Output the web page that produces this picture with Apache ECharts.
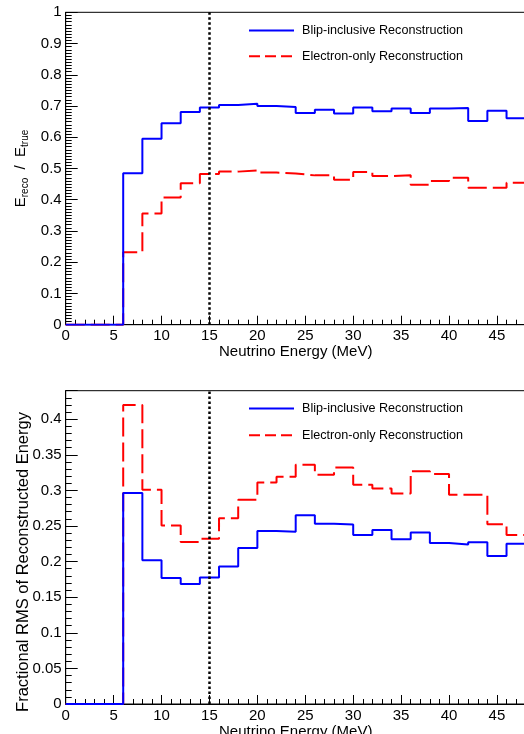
<!DOCTYPE html>
<html>
<head>
<meta charset="utf-8">
<script src="https://cdn.jsdelivr.net/npm/echarts@6/dist/echarts.min.js"></script>
<style>
html,body{margin:0;padding:0;background:#fff;}
#chart{width:524px;height:734px;}
</style>
</head>
<body>
<div id="chart"></div>
<script>
// Bin edges (MeV)
const binEdges = [0,2,4,6,8,10,12,14,16,18,20,22,24,26,28,30,32,34,36,38,40,42,44,46,48];
const seriesNames = ['Blip-inclusive Reconstruction', 'Electron-only Reconstruction'];
// Top panel: E_reco / E_true
const ratioBlip = [0,0,0,0.485,0.595,0.645,0.681,0.695,0.703,0.707,0.700,0.697,0.678,0.688,0.676,0.695,0.683,0.692,0.678,0.692,0.694,0.652,0.685,0.661];
const ratioElec = [0,0,0,0.232,0.356,0.407,0.453,0.482,0.490,0.494,0.487,0.484,0.478,0.478,0.464,0.489,0.476,0.478,0.448,0.460,0.470,0.438,0.438,0.454];
// Bottom panel: fractional RMS
const rmsBlip = [0,0,0,0.2965,0.202,0.177,0.1686,0.1775,0.193,0.219,0.243,0.242,0.265,0.253,0.252,0.2375,0.2445,0.2314,0.2407,0.226,0.224,0.227,0.208,0.225];
const rmsElec = [0,0,0,0.420,0.301,0.2506,0.2276,0.232,0.261,0.287,0.311,0.319,0.336,0.322,0.332,0.308,0.3025,0.2955,0.327,0.323,0.294,0.294,0.2525,0.2375];
const cutEnergy = 15;

function stepData(vals){
  const d = vals.map((v,i)=>[binEdges[i], v]);
  d.push([binEdges[binEdges.length-1], vals[vals.length-1]]);
  return d;
}

const FONT = 'Liberation Sans, Arial, Helvetica, sans-serif';
const BLUE = '#0000ff', RED = '#ff0000';

function xAxis(gridIndex){
  return {
    type:'value', gridIndex, min:0, max:48, interval:5,
    name:'Neutrino Energy (MeV)', nameLocation:'middle', nameGap:16,
    nameTextStyle:{fontFamily:FONT, fontSize:15, color:'#000', verticalAlign:'top'},
    axisLine:{show:true, lineStyle:{color:'#000', width:1}},
    axisTick:{show:true, inside:true, length:9, lineStyle:{color:'#000'}},
    minorTick:{show:true, splitNumber:5, length:5, lineStyle:{color:'#000'}},
    axisLabel:{fontFamily:FONT, fontSize:15, color:'#000', margin:4, showMaxLabel:false},
    splitLine:{show:false}
  };
}

function legend(top, gap){
  return {left:248, top, orient:'vertical', padding:0, itemWidth:45, itemHeight:14, itemGap:gap,
    itemStyle:{opacity:0},
    data:[
      {name:seriesNames[0]},
      {name:seriesNames[1], lineStyle:{type:[11,5]}}
    ],
    textStyle:{fontFamily:FONT, fontSize:12.6, color:'#000', padding:[0,0,0,3]}, selectedMode:false};
}

const option = {
  animation:false,
  backgroundColor:'#fff',
  grid:[
    {left:65.7, top:12.3, width:460, height:312.4, show:true, borderColor:'#000', borderWidth:1,
     backgroundColor:'transparent', outerBoundsMode:'none', containLabel:false},
    {left:65.7, top:390.7, width:460, height:313.3, show:true, borderColor:'#000', borderWidth:1,
     backgroundColor:'transparent', outerBoundsMode:'none', containLabel:false}
  ],
  legend:[legend(24, 12.7), legend(402, 13.7)],
  xAxis:[xAxis(0), xAxis(1)],
  yAxis:[
    {type:'value', gridIndex:0, min:0, max:1, interval:0.1,
     name:'{a|E}{s|reco}{a|  /  E}{s|true}', nameLocation:'middle', nameGap:26, nameRotate:90,
     nameTextStyle:{fontFamily:FONT, color:'#000',
       rich:{a:{fontFamily:FONT, fontSize:15, lineHeight:17, verticalAlign:'top', color:'#000'},
             s:{fontFamily:FONT, fontSize:10, lineHeight:12, verticalAlign:'bottom', padding:[6,0,0,0], color:'#000'}}},
     axisLine:{show:true, lineStyle:{color:'#000'}},
     axisTick:{show:true, inside:true, length:12, lineStyle:{color:'#000'}},
     minorTick:{show:true, splitNumber:10, length:6, lineStyle:{color:'#000'}},
     axisLabel:{fontFamily:FONT, fontSize:15, color:'#000', margin:4},
     splitLine:{show:false}},
    {type:'value', gridIndex:1, min:0, max:0.44, interval:0.05,
     axisLine:{show:true, lineStyle:{color:'#000'}},
     axisTick:{show:true, inside:true, length:12, lineStyle:{color:'#000'}},
     minorTick:{show:true, splitNumber:5, length:6, lineStyle:{color:'#000'}},
     axisLabel:{fontFamily:FONT, fontSize:15, color:'#000', margin:4, showMaxLabel:false},
     splitLine:{show:false}}
  ],
  graphic:[
    {type:'text', x:23, y:562, rotation:Math.PI/2,
     style:{text:'Fractional RMS of Reconstructed Energy', fontFamily:FONT, fontSize:16.5, fill:'#000',
            align:'center', verticalAlign:'middle'}}
  ],
  series:[
    {name:seriesNames[1], type:'line', xAxisIndex:0, yAxisIndex:0, step:'end', symbol:'none',
     data:stepData(ratioElec), lineStyle:{color:RED, width:2, type:[19,6]}, itemStyle:{color:RED},
     markLine:{silent:true, symbol:'none', label:{show:false},
       lineStyle:{color:'#000', width:2.5, type:[2.5,2.5]}, data:[{xAxis:cutEnergy}]}},
    {name:seriesNames[0], type:'line', xAxisIndex:0, yAxisIndex:0, step:'end', symbol:'none',
     data:stepData(ratioBlip), lineStyle:{color:BLUE, width:2, type:'solid'}, itemStyle:{color:BLUE}},
    {name:seriesNames[1], type:'line', xAxisIndex:1, yAxisIndex:1, step:'end', symbol:'none',
     data:stepData(rmsElec), lineStyle:{color:RED, width:2, type:[19,6]}, itemStyle:{color:RED},
     markLine:{silent:true, symbol:'none', label:{show:false},
       lineStyle:{color:'#000', width:2.5, type:[2.5,2.5]}, data:[{xAxis:cutEnergy}]}},
    {name:seriesNames[0], type:'line', xAxisIndex:1, yAxisIndex:1, step:'end', symbol:'none',
     data:stepData(rmsBlip), lineStyle:{color:BLUE, width:2, type:'solid'}, itemStyle:{color:BLUE}}
  ]
};

const chart = echarts.init(document.getElementById('chart'), null, {renderer:'canvas'});
chart.setOption(option);
</script>
</body>
</html>
